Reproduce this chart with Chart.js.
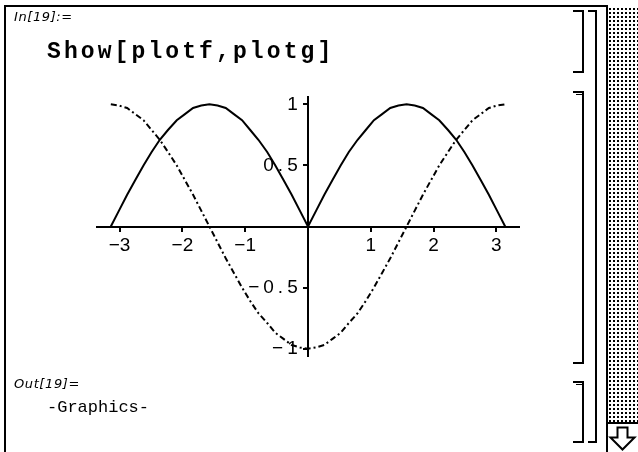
<!DOCTYPE html>
<html>
<head>
<meta charset="utf-8">
<script src="https://cdn.jsdelivr.net/npm/chart.js@4/dist/chart.umd.min.js"></script>
<style>
  html, body { margin: 0; padding: 0; background: #fff; }
  #page { position: relative; width: 638px; height: 452px; overflow: hidden; background: #fff; }
  #plot { position: absolute; left: 0; top: 0; width: 638px; height: 452px; }
  .ln { position: absolute; background: #000; }
  .txt { position: absolute; color: #000; white-space: pre; }
  .tag { font-family: "DejaVu Sans", sans-serif; font-style: italic; font-size: 13px; letter-spacing: 0.6px; }
  .input { font-family: "Liberation Mono", monospace; font-weight: bold; font-size: 23px; letter-spacing: 3.1px; }
  .output { font-family: "Liberation Mono", monospace; font-size: 17px; letter-spacing: 0px; }
  #scroll { position: absolute; left: 608px; top: 7px; width: 30px; height: 415px;
    background-color: #000;
    background-image: linear-gradient(90deg, transparent 2px, #fff 2px), linear-gradient(transparent 2px, #fff 2px);
    background-size: 4px 4px; background-position: 1px 1px; }
</style>
</head>
<body>
<div id="page">
  <canvas id="plot" width="638" height="452"></canvas>

  <!-- notebook frame -->
  <div class="ln" style="left:4px; top:5px; width:604px; height:2px;"></div>
  <div class="ln" style="left:4px; top:5px; width:2px; height:447px;"></div>

  <!-- cell brackets -->
  <div class="ln" style="left:573px; top:10px; width:11px; height:2px;"></div>
  <div class="ln" style="left:582px; top:10px; width:2px; height:63px;"></div>
  <div class="ln" style="left:573px; top:71px; width:11px; height:2px;"></div>

  <div class="ln" style="left:573px; top:91px; width:11px; height:2px;"></div>
  <div class="ln" style="left:576px; top:94px; width:8px; height:1px;"></div>
  <div class="ln" style="left:582px; top:91px; width:2px; height:273px;"></div>
  <div class="ln" style="left:573px; top:362px; width:11px; height:2px;"></div>

  <div class="ln" style="left:573px; top:381px; width:11px; height:2px;"></div>
  <div class="ln" style="left:576px; top:384px; width:8px; height:1px;"></div>
  <div class="ln" style="left:582px; top:381px; width:2px; height:62px;"></div>
  <div class="ln" style="left:573px; top:441px; width:11px; height:2px;"></div>

  <div class="ln" style="left:588px; top:10px; width:9px; height:2px;"></div>
  <div class="ln" style="left:595px; top:10px; width:2px; height:433px;"></div>
  <div class="ln" style="left:588px; top:441px; width:9px; height:2px;"></div>

  <!-- scroll bar -->
  <div class="ln" style="left:606px; top:5px; width:2px; height:447px;"></div>
  <div id="scroll"></div>
  <div class="ln" style="left:606px; top:422px; width:32px; height:2px;"></div>
  <svg style="position:absolute; left:608px; top:424px;" width="30" height="28">
    <polygon points="9.5,3.5 19.5,3.5 19.5,13.5 26.5,13.5 14.5,25.5 2.5,13.5 9.5,13.5"
             fill="#fff" stroke="#000" stroke-width="2"/>
  </svg>

  <!-- cell text -->
  <div class="txt tag" style="left:14px; top:9px;">In[19]:=</div>
  <div class="txt input" style="left:47px; top:39px;">Show[plotf,plotg]</div>
  <div class="txt tag" style="left:14px; top:376px;">Out[19]=</div>
  <div class="txt output" style="left:47px; top:398px;">-Graphics-</div>
</div>

<script>
// sample abscissae, -pi .. pi
const xValues = [-3.14, -3.01, -2.88, -2.75, -2.62, -2.49, -2.36, -2.23, -2.09, -1.96, -1.83, -1.70,
                 -1.57, -1.44, -1.31, -1.18, -1.05, -0.92, -0.79, -0.65, -0.52, -0.39, -0.26, -0.13,
                 0, 0.13, 0.26, 0.39, 0.52, 0.65, 0.79, 0.92, 1.05, 1.18, 1.31, 1.44,
                 1.57, 1.70, 1.83, 1.96, 2.09, 2.23, 2.36, 2.49, 2.62, 2.75, 2.88, 3.01, 3.14];
// plotf : solid curve
const plotfValues = [0, 0.13, 0.26, 0.38, 0.5, 0.61, 0.71, 0.79, 0.87, 0.92, 0.97, 0.99,
                     1, 0.99, 0.97, 0.92, 0.87, 0.79, 0.71, 0.61, 0.5, 0.38, 0.26, 0.13,
                     0, 0.13, 0.26, 0.38, 0.5, 0.61, 0.71, 0.79, 0.87, 0.92, 0.97, 0.99,
                     1, 0.99, 0.97, 0.92, 0.87, 0.79, 0.71, 0.61, 0.5, 0.38, 0.26, 0.13, 0];
// plotg : dot-dashed curve
const plotgValues = [1, 0.99, 0.97, 0.92, 0.87, 0.79, 0.71, 0.61, 0.5, 0.38, 0.26, 0.13,
                     0, -0.13, -0.26, -0.38, -0.5, -0.61, -0.71, -0.79, -0.87, -0.92, -0.97, -0.99,
                     -1, -0.99, -0.97, -0.92, -0.87, -0.79, -0.71, -0.61, -0.5, -0.38, -0.26, -0.13,
                     0, 0.13, 0.26, 0.38, 0.5, 0.61, 0.71, 0.79, 0.87, 0.92, 0.97, 0.99, 1];
const xTickValues = [-3, -2, -1, 1, 2, 3];
const yTickValues = [-1, -0.5, 0.5, 1];

const toPoints = ys => xValues.map((x, i) => ({ x: x, y: ys[i] }));
const fmt = v => String(v).replace('-', '\u2212');

const tickFont = { family: "'Liberation Sans', sans-serif", size: 19 };
const axisGrid = { drawOnChartArea: false, drawTicks: true, tickLength: 4, color: '#000', lineWidth: 2 };

// the y labels are drawn in a layer above the curves with wider letter spacing
const spacedLabels = {
  id: 'spacedLabels',
  afterDatasetsDraw(chart) { chart.ctx.letterSpacing = '4px'; },
  afterDraw(chart) { chart.ctx.letterSpacing = '0px'; }
};

new Chart(document.getElementById('plot'), {
  type: 'line',
  data: {
    datasets: [
      { label: 'plotf', data: toPoints(plotfValues), borderColor: '#000', borderWidth: 2,
        pointRadius: 0, tension: 0, fill: false },
      { label: 'plotg', data: toPoints(plotgValues), borderColor: '#000', borderWidth: 2,
        borderDash: [6, 3, 2, 3], pointRadius: 0, tension: 0, fill: false }
    ]
  },
  plugins: [spacedLabels],
  options: {
    responsive: false,
    animation: false,
    events: [],
    layout: { padding: { left: 97, right: 119, top: 97, bottom: 96 } },
    plugins: { legend: { display: false }, tooltip: { enabled: false } },
    scales: {
      x: {
        type: 'linear', min: -3.36, max: 3.36, position: { y: 0 },
        afterBuildTicks: s => { s.ticks = xTickValues.map(v => ({ value: v })); },
        grid: axisGrid,
        border: { display: true, color: '#000', width: 2 },
        ticks: { color: '#000', font: tickFont, padding: 4, autoSkip: false, maxRotation: 0,
                 callback: fmt }
      },
      y: {
        type: 'linear', min: -1.06, max: 1.06, position: { x: 0 },
        afterBuildTicks: s => { s.ticks = yTickValues.map(v => ({ value: v })); },
        grid: axisGrid,
        border: { display: true, color: '#000', width: 2 },
        ticks: { display: false }
      },
      yLabels: {
        type: 'linear', axis: 'y', min: -1.06, max: 1.06, position: { x: -0.1 },
        afterBuildTicks: s => { s.ticks = yTickValues.map(v => ({ value: v })); },
        grid: { display: false },
        border: { display: false },
        ticks: { color: '#000', font: tickFont, autoSkip: false, z: 1, callback: fmt }
      }
    }
  }
});
</script>
</body>
</html>
